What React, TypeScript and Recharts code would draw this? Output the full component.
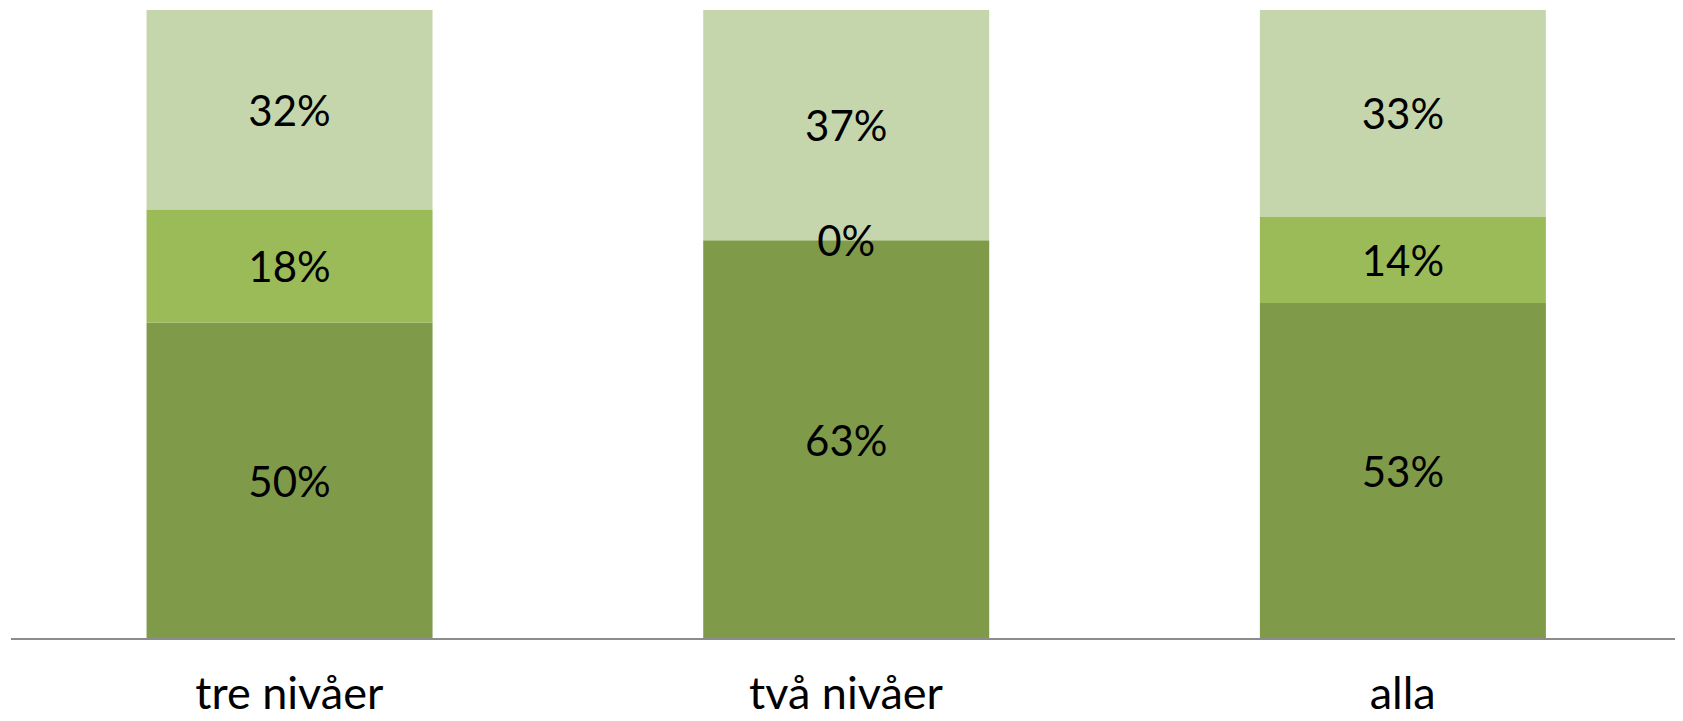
import * as React from "react"
import { BarChart, Bar, XAxis, YAxis, LabelList } from "recharts"

const categories = ["tre nivåer", "två nivåer", "alla"]
const lowerShare = [50.3, 63.4, 53.4]
const middleShare = [17.9, 0, 13.7]
const upperShare = [31.8, 36.6, 32.9]

const data = categories.map((name, i) => ({
  name,
  lower: lowerShare[i],
  middle: middleShare[i],
  upper: upperShare[i],
}))

const pct = (v: any) => `${Math.round(Number(v))}%`

const FONT = "Lato, sans-serif"

function PctText({ cx, cy, value }: { cx: number; cy: number; value: number }) {
  return (
    <text x={cx} y={cy} textAnchor="middle" dominantBaseline="central" fill="#000" fontSize={42} fontFamily={FONT}>
      {pct(value)}
    </text>
  )
}

function SegmentLabel(props: any) {
  const { x, y, width, height, value } = props
  if (value == null || x == null) return null
  return <PctText cx={Number(x) + Number(width) / 2} cy={Number(y) + Number(height) / 2} value={value} />
}

// the middle segment can be empty (0%), and recharts drops zero-height bars,
// so its label is placed from the lower segment's geometry instead
function MiddleLabel(props: any) {
  const { x, y, width, height, value, index } = props
  if (x == null || !value) return null
  const mid = middleShare[index]
  const pxPerUnit = Number(height) / Number(value)
  return <PctText cx={Number(x) + Number(width) / 2} cy={Number(y) - (mid * pxPerUnit) / 2} value={mid} />
}

function CategoryTick(props: any) {
  const { x, y, payload } = props
  return (
    <text x={x} y={y} dy={62} textAnchor="middle" fill="#000" fontSize={45} fontFamily={FONT}>
      {payload.value}
    </text>
  )
}

export default function App() {
  return (
    <BarChart
      width={1675}
      height={713}
      data={data}
      margin={{ top: 2, right: 2, bottom: 0, left: 3 }}
      barCategoryGap="24.35%"
    >
      <YAxis hide domain={[0, 100]} />
      <XAxis
        dataKey="name"
        height={82}
        tickLine={false}
        axisLine={{ stroke: "#8c8c8c", strokeWidth: 2 }}
        tick={<CategoryTick />}
        interval={0}
      />
      <Bar dataKey="lower" stackId="a" fill="#7f9b4a" isAnimationActive={false}>
        <LabelList dataKey="lower" content={<SegmentLabel />} />
        <LabelList dataKey="lower" content={<MiddleLabel />} />
      </Bar>
      <Bar dataKey="middle" stackId="a" fill="#9bbb59" isAnimationActive={false} />
      <Bar dataKey="upper" stackId="a" fill="#c6d6ac" isAnimationActive={false}>
        <LabelList dataKey="upper" content={<SegmentLabel />} />
      </Bar>
    </BarChart>
  )
}
